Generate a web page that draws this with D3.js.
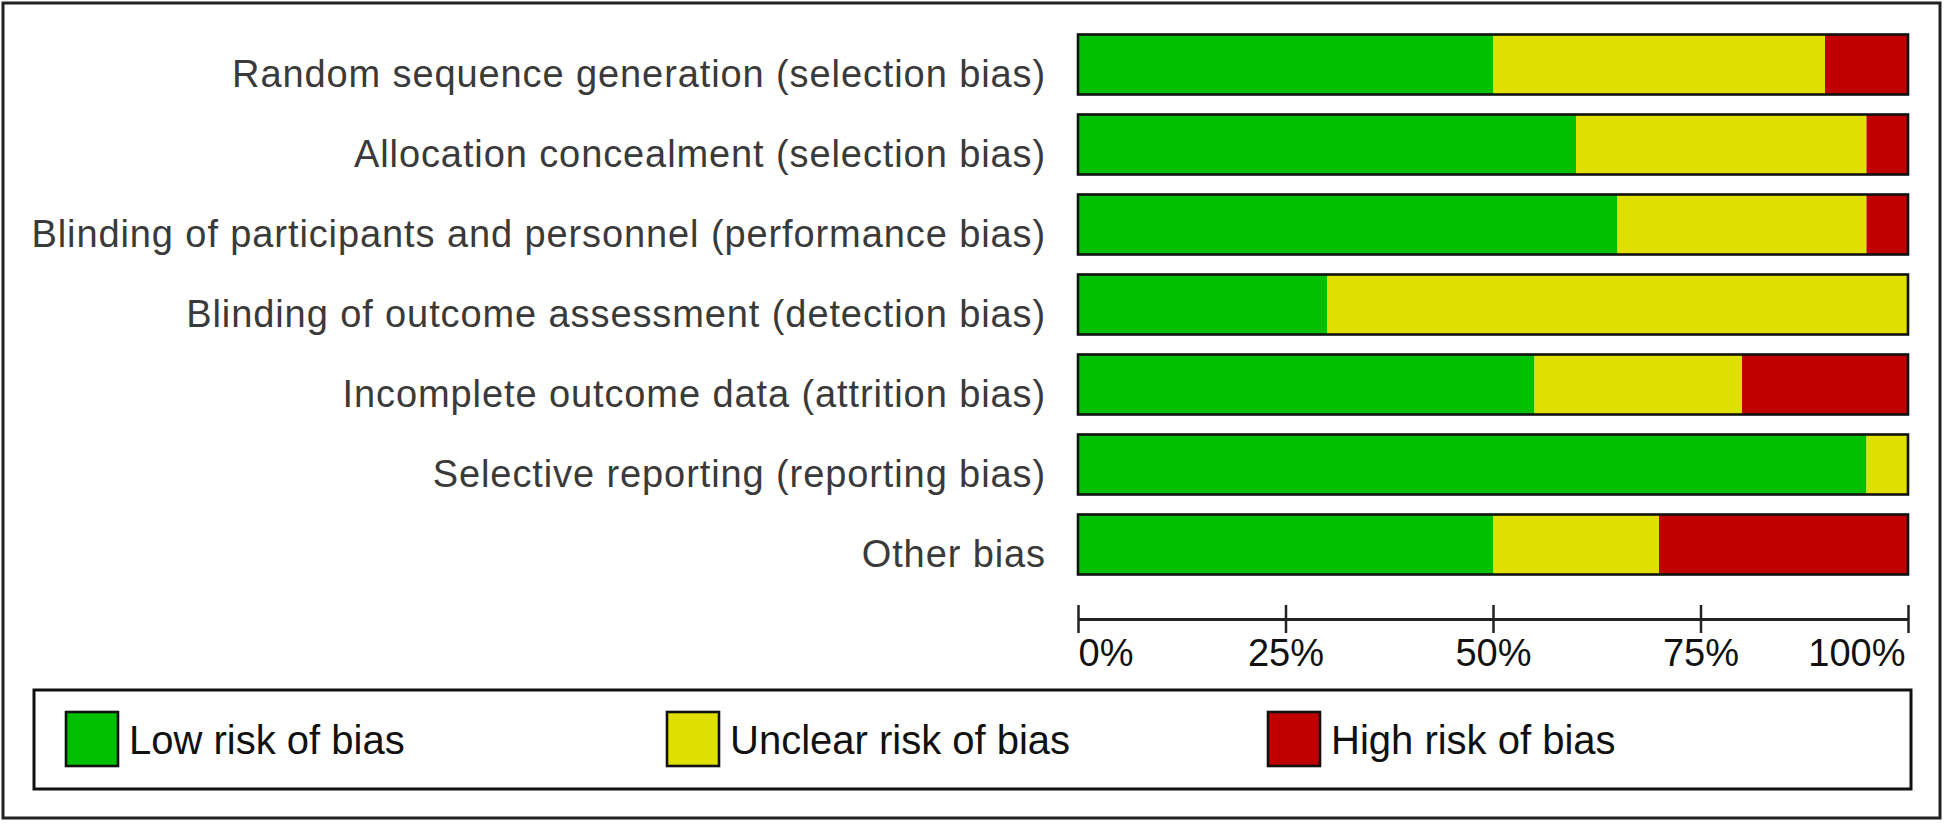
<!DOCTYPE html>
<html>
<head>
<meta charset="utf-8">
<script src="https://cdn.jsdelivr.net/npm/d3@7"></script>
<style>
  html, body { margin: 0; padding: 0; background: #fff; }
  svg { display: block; }
</style>
</head>
<body>
<svg id="chart" width="1946" height="824"></svg>
<script>
const categories = [
  "Random sequence generation (selection bias)",
  "Allocation concealment (selection bias)",
  "Blinding of participants and personnel (performance bias)",
  "Blinding of outcome assessment (detection bias)",
  "Incomplete outcome data (attrition bias)",
  "Selective reporting (reporting bias)",
  "Other bias"
];
const lowRisk     = [50, 60, 65, 30, 55, 95, 50];
const unclearRisk = [40, 35, 30, 70, 25,  5, 20];
const highRisk    = [10,  5,  5,  0, 20,  0, 30];
const seriesNames = ["Low risk of bias", "Unclear risk of bias", "High risk of bias"];
const seriesColors = ["#00C000", "#E0E000", "#C00000"];
const tickValues = [0, 25, 50, 75, 100];
const tickLabels = ["0%", "25%", "50%", "75%", "100%"];

const svg = d3.select("#chart");

// outer frame
svg.append("rect")
  .attr("x", 3).attr("y", 3).attr("width", 1937).attr("height", 815)
  .attr("fill", "#fff").attr("stroke", "#222").attr("stroke-width", 3);

const x = d3.scaleLinear().domain([0, 100]).range([1078, 1908]);
const y = d3.scaleBand().domain(categories).range([34.5, 574.5]).paddingInner(0.25).paddingOuter(0);

const rows = categories.map((c, i) => ({ cat: c, vals: [lowRisk[i], unclearRisk[i], highRisk[i]] }));
const stackData = rows.map(r => {
  let acc = 0;
  return r.vals.map((v, k) => { const s = { cat: r.cat, k, x0: acc, x1: acc + v }; acc += v; return s; });
});

const g = svg.append("g");
const rowG = g.selectAll("g.row").data(stackData).enter().append("g").attr("class", "row");
rowG.selectAll("rect.seg").data(d => d.filter(s => s.x1 > s.x0)).enter().append("rect")
  .attr("class", "seg")
  .attr("x", d => x(d.x0)).attr("width", d => x(d.x1) - x(d.x0))
  .attr("y", d => y(d.cat)).attr("height", y.bandwidth())
  .attr("fill", d => seriesColors[d.k]);
// bar outlines
g.selectAll("rect.outline").data(categories).enter().append("rect")
  .attr("class", "outline")
  .attr("x", x(0)).attr("width", x(100) - x(0))
  .attr("y", d => y(d)).attr("height", y.bandwidth())
  .attr("fill", "none").attr("stroke", "#111").attr("stroke-width", 2.6);

// category labels
g.selectAll("text.cat").data(categories).enter().append("text")
  .attr("class", "cat")
  .attr("x", 1046).attr("y", d => y(d) + y.bandwidth() / 2 + 22)
  .attr("text-anchor", "end")
  .attr("font-family", "Liberation Sans, Arial, sans-serif")
  .attr("font-size", 38).attr("letter-spacing", 0.9)
  .attr("fill", "#3a3a3a")
  .text(d => d);

// x axis
const axis = d3.axisBottom(x).tickValues(tickValues).tickSizeInner(14).tickSizeOuter(0)
  .tickFormat((d, i) => tickLabels[i]);
const axG = svg.append("g").attr("transform", "translate(0,619)").call(axis);
axG.select(".domain").attr("stroke", "#222").attr("stroke-width", 3);
axG.selectAll(".tick line").attr("y1", -14).attr("y2", 14).attr("stroke", "#222").attr("stroke-width", 2.5);
axG.selectAll(".tick text")
  .attr("y", 47).attr("dy", null)
  .attr("font-family", "Liberation Sans, Arial, sans-serif")
  .attr("font-size", 38).attr("fill", "#111")
  .attr("text-anchor", (d, i) => i === 0 ? "start" : (i === tickValues.length - 1 ? "end" : "middle"))
  .attr("dx", (d, i) => i === tickValues.length - 1 ? -3 : 0);

// legend
svg.append("rect")
  .attr("x", 34).attr("y", 690).attr("width", 1877).attr("height", 99)
  .attr("fill", "#fff").attr("stroke", "#111").attr("stroke-width", 3);
const legendX = [66, 667, 1268];
const lg = svg.selectAll("g.leg").data(seriesNames).enter().append("g").attr("class", "leg")
  .attr("transform", (d, i) => `translate(${legendX[i]},712)`);
lg.append("rect").attr("x", 0).attr("y", 0).attr("width", 52).attr("height", 54)
  .attr("fill", (d, i) => seriesColors[i]).attr("stroke", "#111").attr("stroke-width", 2.6);
lg.append("text").attr("x", 63).attr("y", 42)
  .attr("font-family", "Liberation Sans, Arial, sans-serif")
  .attr("font-size", 40).attr("fill", "#111")
  .text(d => d);
</script>
</body>
</html>
